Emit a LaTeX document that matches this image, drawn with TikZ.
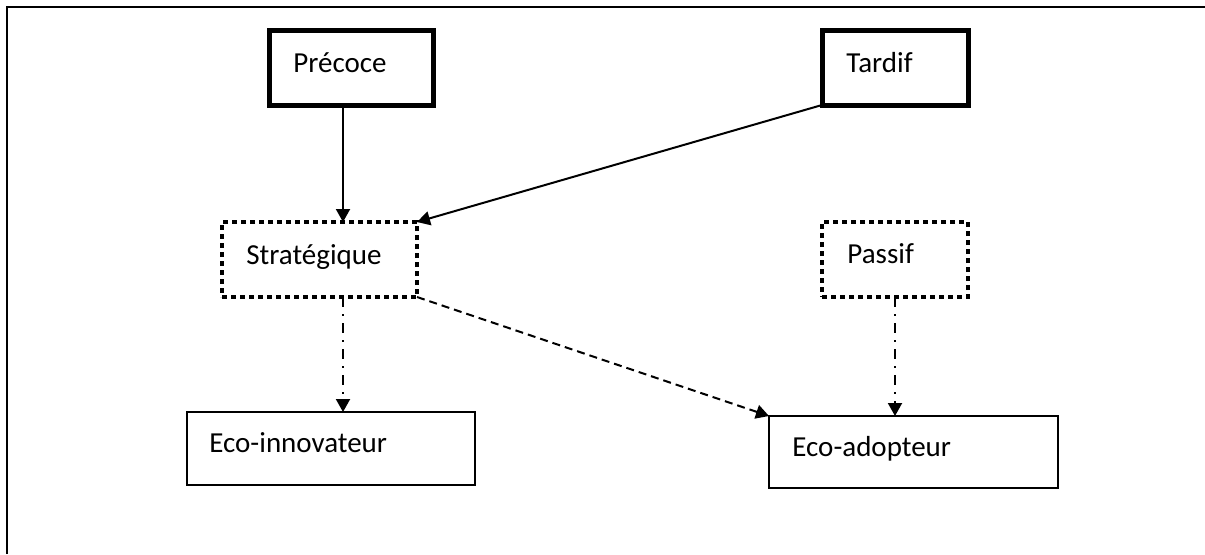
\documentclass[tikz,border=0pt]{standalone}
\usepackage{fontspec}
\setmainfont{Carlito}
\usetikzlibrary{arrows.meta}
\begin{document}
\begin{tikzpicture}[x=0.5pt,y=-0.5pt,
  box/.style={draw,inner sep=0pt,outer sep=0pt,rectangle},
  thickbox/.style={box,line width=2.5pt},
  thinbox/.style={box,line width=1.1pt},
  dotbox/.style={box,line width=2.3pt,dash pattern=on 2.3pt off 2.2pt},
  lbl/.style={anchor=base west,inner sep=0pt,font=\fontsize{14.5}{17}\selectfont},
  arr/.style={line width=1pt,-{Triangle[length=6.5pt,width=7pt]}},
  dasharr/.style={arr,dash pattern=on 4pt off 2.5pt},
  dotdasharr/.style={arr,dash pattern=on 5pt off 3.5pt on 1pt off 3.5pt}
]
\useasboundingbox (0,0) rectangle (1205,554);
\draw[line width=1.3pt] (7,554) -- (7,7) -- (1205,7);
% boxes
\node[thickbox,minimum width=82pt,minimum height=37.5pt] (pre) at (351,67.5) {};
\node[thickbox,minimum width=73pt,minimum height=37.5pt] (tar) at (895,67.5) {};
\node[dotbox,minimum width=97.5pt,minimum height=37.5pt] (str) at (319.5,259.5) {};
\node[dotbox,minimum width=73pt,minimum height=37.5pt] (pas) at (895,259.5) {};
\node[thinbox,minimum width=144pt,minimum height=36.5pt] (inn) at (331,448.5) {};
\node[thinbox,minimum width=144.5pt,minimum height=36pt] (ado) at (913.5,452) {};
% labels
\node[lbl] (tpre) at (293,72) {Précoce};
\node[lbl] (ttar) at (846,72) {Tardif};
\node[lbl] (tstr) at (246,264) {Stratégique};
\node[lbl] (tpas) at (847,263) {Passif};
\node[lbl] (tinn) at (209,452) {Eco-innovateur};
\node[lbl] (tado) at (792,456) {Eco-adopteur};
% connectors
\coordinate (c1) at (343,0);
\coordinate (c2) at (895,0);
\draw[arr] (pre.south -| c1) -- (str.north -| c1);
\draw[arr] (tar.south west) -- (str.north east);
\draw[dotdasharr] (str.south -| c1) -- (inn.north -| c1);
\draw[dasharr] (str.south east) -- (ado.north west);
\draw[dotdasharr] (pas.south -| c2) -- (ado.north -| c2);
\end{tikzpicture}
\end{document}
